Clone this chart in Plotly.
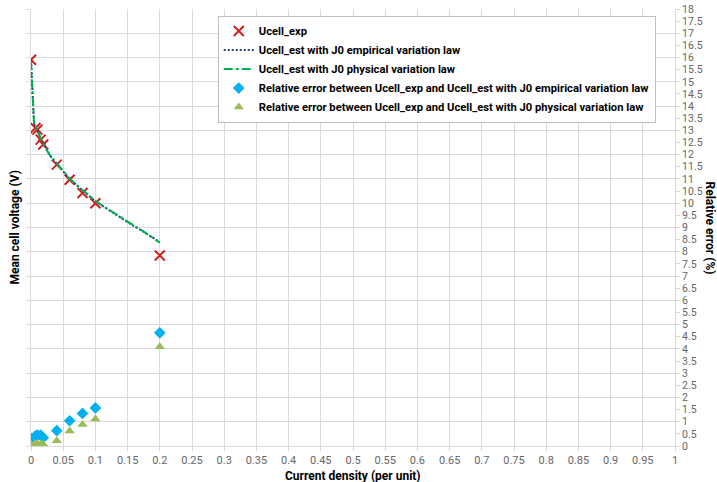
import plotly.graph_objects as go

# ---- data ----
current_exp = [0, 0.007, 0.01, 0.015, 0.019, 0.04, 0.06, 0.08, 0.1, 0.2]
ucell_exp = [15.91, 13.10, 13.03, 12.62, 12.42, 11.59, 10.97, 10.42, 10.00, 7.85]
err_empirical = [0.32, 0.42, 0.45, 0.45, 0.34, 0.63, 1.04, 1.34, 1.57, 4.66]
err_physical = [0.07, 0.10, 0.10, 0.08, 0.07, 0.22, 0.62, 0.89, 1.11, 4.09]

current_est = [0, 0.0016, 0.003, 0.0047, 0.01, 0.018, 0.029, 0.04, 0.05, 0.06,
               0.07, 0.08, 0.09, 0.1, 0.115, 0.13, 0.145, 0.16, 0.175, 0.2]
ucell_est_empirical = [15.90, 14.93, 13.96, 13.28, 12.97, 12.50, 11.98, 11.62, 11.29, 11.00,
                       10.77, 10.52, 10.30, 10.08, 9.82, 9.58, 9.33, 9.05, 8.82, 8.40]
ucell_est_physical = [15.85, 14.98, 14.02, 13.30, 12.98, 12.50, 11.99, 11.63, 11.30, 11.01,
                      10.77, 10.53, 10.31, 10.09, 9.83, 9.58, 9.34, 9.06, 8.83, 8.38]

names = [
    "Ucell_exp",
    "Ucell_est with J0 empirical variation law",
    "Ucell_est with J0 physical variation law",
    "Relative error between Ucell_exp and Ucell_est with J0 empirical variation law",
    "Relative error between Ucell_exp and Ucell_est with J0 physical variation law",
]

FONT = "Liberation Sans Narrow, Roboto, sans-serif"
GRID = "#D9D9D9"
TICKC = "#666666"

fig = go.Figure()
fig.add_trace(go.Scatter(
    x=current_exp, y=ucell_exp, mode="markers", name=names[0],
    marker=dict(symbol="x-thin", size=10, line=dict(color="#D0201E", width=2), color="#D0201E"),
))
fig.add_trace(go.Scatter(
    x=current_est, y=ucell_est_empirical, mode="lines", name=names[1],
    line=dict(color="#2B3F8F", width=2, dash="2px,2px"),
))
fig.add_trace(go.Scatter(
    x=current_est, y=ucell_est_physical, mode="lines", name=names[2],
    line=dict(color="#00B050", width=2, dash="dashdot"),
))
fig.add_trace(go.Scatter(
    x=current_exp, y=err_empirical, mode="markers", name=names[3], yaxis="y2",
    marker=dict(symbol="diamond", size=9, color="#00B0F0"),
))
fig.add_trace(go.Scatter(
    x=current_exp, y=err_physical, mode="markers", name=names[4], yaxis="y2",
    marker=dict(symbol="triangle-up", size=9, color="#9BBB59"),
))

fig.update_layout(
    width=717, height=482,
    margin=dict(l=31, r=42, t=9, b=36, autoexpand=False),
    paper_bgcolor="white", plot_bgcolor="white",
    font=dict(family=FONT, size=11, color=TICKC),
    showlegend=True,
    legend=dict(
        x=0.29, y=0.985, xanchor="left", yanchor="top",
        bgcolor="white", bordercolor="#BFBFBF", borderwidth=1,
        font=dict(family=FONT, size=11.2, color="#000000", weight="bold"),
        tracegroupgap=0,
    ),
    xaxis=dict(
        range=[0, 1], dtick=0.05, tick0=0,
        showgrid=True, gridcolor=GRID, gridwidth=1,
        zeroline=False, showline=True, linecolor=GRID,
        ticks="outside", ticklen=4, tickcolor=GRID,
        tickfont=dict(family=FONT, size=11, color=TICKC),
    ),
    yaxis=dict(
        range=[0, 18], dtick=1, tick0=0,
        showgrid=True, gridcolor=GRID, gridwidth=1,
        zeroline=False, showline=True, linecolor=GRID,
        ticks="outside", ticklen=4, tickcolor=GRID,
        showticklabels=False,
    ),
    yaxis2=dict(
        range=[0, 18], dtick=0.5, tick0=0,
        overlaying="y", side="right",
        showgrid=False, zeroline=False, showline=True, linecolor=GRID,
        ticks="outside", ticklen=4, tickcolor=GRID,
        tickfont=dict(family=FONT, size=10.5, color=TICKC),
    ),
    annotations=[
        dict(text="<b>Current density (per unit)</b>", xref="paper", yref="paper",
             x=0.5, y=0, yshift=-30, showarrow=False, xanchor="center", yanchor="middle",
             font=dict(family=FONT, size=12, color="#000000")),
        dict(text="<b>Mean cell voltage (V)</b>", xref="paper", yref="paper",
             x=0, xshift=-17, y=0.5, showarrow=False, textangle=-90,
             xanchor="center", yanchor="middle",
             font=dict(family=FONT, size=12, color="#000000")),
        dict(text="<b>Relative error (%)</b>", xref="paper", yref="paper",
             x=1, xshift=35, y=0.5, showarrow=False, textangle=90,
             xanchor="center", yanchor="middle",
             font=dict(family=FONT, size=12, color="#000000")),
    ],
)

fig.write_html("out.html", config={"displayModeBar": False},
               post_script="document.body.style.margin='0';")
